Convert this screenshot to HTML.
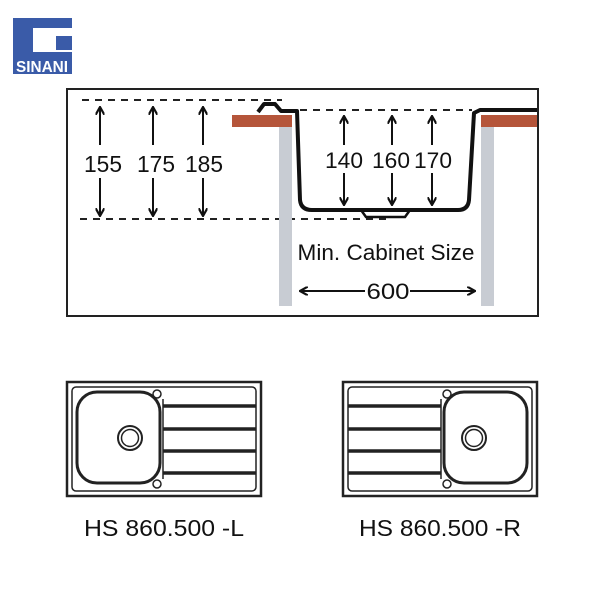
<!DOCTYPE html>
<html><head><style>
body{margin:0;background:#fff;}
svg{display:block;}
text{font-family:"Liberation Sans",sans-serif;}
</style></head><body>
<svg width="600" height="600" viewBox="0 0 600 600" xmlns="http://www.w3.org/2000/svg">
<defs>
<marker id="ah" markerWidth="9" markerHeight="9" refX="7" refY="4.5" orient="auto" markerUnits="userSpaceOnUse"><path d="M0,0 L8,4.5 L0,9" fill="none" stroke="#111" stroke-width="2.2"/></marker>
<g id="sink">
<rect x="0" y="0" width="194" height="114" fill="none" stroke="#222" stroke-width="2.5"/>
<rect x="5" y="5" width="184" height="104" rx="4" fill="none" stroke="#222" stroke-width="1.5"/>
<rect x="10" y="10" width="83" height="91" rx="20" fill="none" stroke="#222" stroke-width="3"/>
<circle cx="63" cy="56" r="12" fill="none" stroke="#222" stroke-width="2"/>
<circle cx="63" cy="56" r="8.5" fill="none" stroke="#222" stroke-width="1.5"/>
<circle cx="90" cy="12" r="4" fill="none" stroke="#222" stroke-width="1.5"/>
<circle cx="90" cy="102" r="4" fill="none" stroke="#222" stroke-width="1.5"/>
<line x1="96" y1="17" x2="96" y2="97" stroke="#222" stroke-width="1.5"/>
<g stroke="#222" stroke-width="3.5">
<line x1="96" y1="24" x2="189" y2="24"/>
<line x1="96" y1="47" x2="189" y2="47"/>
<line x1="96" y1="69" x2="189" y2="69"/>
<line x1="96" y1="91" x2="189" y2="91"/>
</g>
</g>
</defs>
<rect x="13" y="18" width="59" height="56" fill="#3a5ba8"/>
<rect x="33" y="28" width="39" height="24" fill="#fff"/>
<rect x="56" y="36" width="16" height="14" fill="#3a5ba8"/>
<text x="42" y="72" font-size="16" font-weight="bold" fill="#fff" text-anchor="middle" textLength="52" lengthAdjust="spacingAndGlyphs">SINANI</text>
<rect x="67" y="89" width="471" height="227" fill="none" stroke="#222" stroke-width="2"/>
<g stroke="#222" stroke-width="2" stroke-dasharray="7,6" fill="none">
<line x1="82" y1="100" x2="282" y2="100"/>
<line x1="80" y1="219" x2="390" y2="219"/>
<line x1="300" y1="110" x2="472" y2="110"/>
</g>
<rect x="232" y="115" width="60" height="12" fill="#b5553a"/>
<rect x="481" y="115" width="56" height="12" fill="#b5553a"/>
<rect x="279" y="127" width="13" height="179" fill="#c8ccd3"/>
<rect x="481" y="127" width="13" height="179" fill="#c8ccd3"/>
<path d="M258,112 L264,104 L275,104 L281,111 L297,111 L300,200 Q301,210 312,210 L458,210 Q468,210 469,200 L474,113 L480,110 L537,110" fill="none" stroke="#111" stroke-width="4" stroke-linejoin="round"/>
<path d="M361,210 L366,217 L405,217 L410,210" fill="none" stroke="#111" stroke-width="2.5"/>
<g stroke="#111" stroke-width="2" marker-end="url(#ah)">
<line x1="100" y1="145" x2="100" y2="108"/><line x1="100" y1="178" x2="100" y2="215"/>
<line x1="153" y1="145" x2="153" y2="108"/><line x1="153" y1="178" x2="153" y2="215"/>
<line x1="203" y1="145" x2="203" y2="108"/><line x1="203" y1="178" x2="203" y2="215"/>
<line x1="344" y1="145" x2="344" y2="117"/><line x1="344" y1="173" x2="344" y2="204"/>
<line x1="392" y1="145" x2="392" y2="117"/><line x1="392" y1="173" x2="392" y2="204"/>
<line x1="432" y1="145" x2="432" y2="117"/><line x1="432" y1="173" x2="432" y2="204"/>
<line x1="365" y1="291" x2="301" y2="291"/><line x1="410" y1="291" x2="474" y2="291"/>
</g>
<g font-size="23" fill="#111" text-anchor="middle">
<text x="103" y="172" textLength="38" lengthAdjust="spacingAndGlyphs">155</text>
<text x="156" y="172" textLength="38" lengthAdjust="spacingAndGlyphs">175</text>
<text x="204" y="172" textLength="38" lengthAdjust="spacingAndGlyphs">185</text>
</g>
<g font-size="22" fill="#111" text-anchor="middle">
<text x="344" y="168" textLength="38" lengthAdjust="spacingAndGlyphs">140</text>
<text x="391" y="168" textLength="38" lengthAdjust="spacingAndGlyphs">160</text>
<text x="433" y="168" textLength="38" lengthAdjust="spacingAndGlyphs">170</text>
<text x="386" y="260" textLength="177" lengthAdjust="spacingAndGlyphs">Min. Cabinet Size</text>
<text x="388" y="299" textLength="43" lengthAdjust="spacingAndGlyphs">600</text>
</g>
<use href="#sink" transform="translate(67,382)"/>
<use href="#sink" transform="translate(537,382) scale(-1,1)"/>
<g font-size="23" fill="#111" text-anchor="middle">
<text x="164" y="536" textLength="160" lengthAdjust="spacingAndGlyphs">HS 860.500 -L</text>
<text x="440" y="536" textLength="162" lengthAdjust="spacingAndGlyphs">HS 860.500 -R</text>
</g>
</svg>
</body></html>
